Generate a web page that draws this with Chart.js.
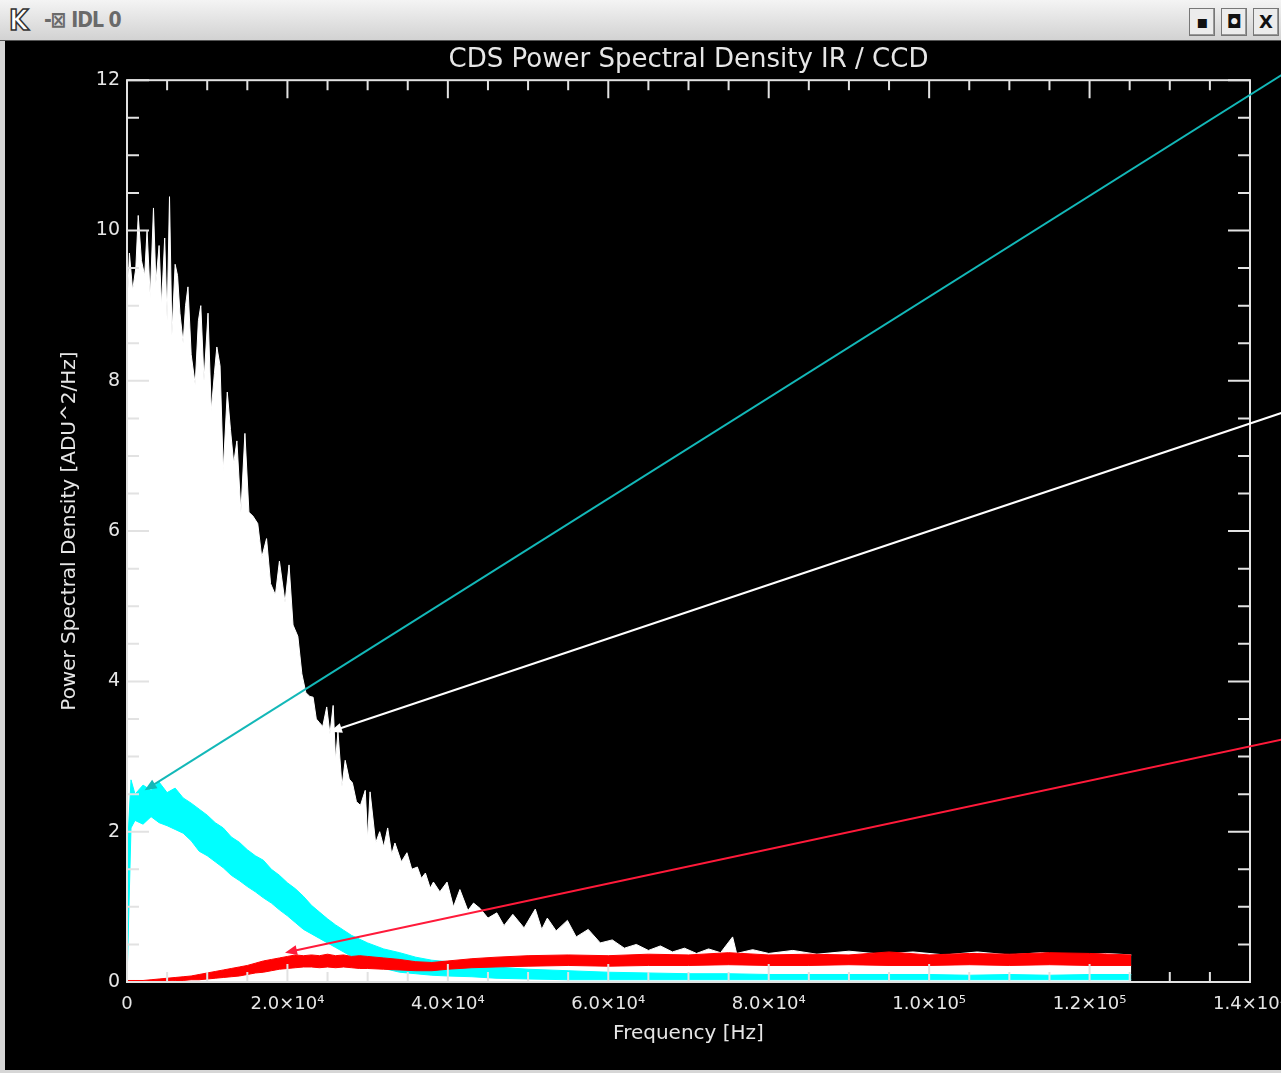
<!DOCTYPE html>
<html>
<head>
<meta charset="utf-8">
<title>CDS Power Spectral Density IR / CCD</title>
<script src="https://cdn.jsdelivr.net/npm/chart.js@4.4.1/dist/chart.umd.min.js"></script>
<style>
  html, body { margin: 0; padding: 0; }
  body { width: 1281px; height: 1073px; background: #d6d6d6; position: relative; overflow: hidden; font-family: "DejaVu Sans", sans-serif; }
  #titlebar { position: absolute; left: 0; top: 0; width: 1281px; height: 40px;
    background: linear-gradient(#f4f4f4, #d2d2d2); border-bottom: 1px solid #555; }
  #titlebar .logo { position: absolute; left: 9px; top: 4px; font: bold 28px "DejaVu Sans Condensed", "DejaVu Sans"; color: #fff;
    -webkit-text-stroke: 1.5px #333; }
  #titlebar .name { position: absolute; left: 44px; top: 8px; font: bold 21px "DejaVu Sans Condensed", "DejaVu Sans"; color: #6a6a6a; letter-spacing: -1px; }
  #titlebar .btn { position: absolute; top: 8px; width: 24px; height: 26px; border: 1px solid #777; background: #ececec;
    box-shadow: inset -1px -1px 0 #999; font: bold 18px "DejaVu Sans"; color: #111; text-align: center; line-height: 26px; }
  #plot { position: absolute; left: 5px; top: 41px; width: 1276px; height: 1029px; background: #000; }
  #psd { display: block; background: #000; }
</style>
</head>
<body>
<div id="titlebar">
  <span class="logo">K</span>
  <span class="name">-⊠ IDL 0</span>
  <span class="btn" style="left:1189px">▪</span>
  <span class="btn" style="left:1221px">◘</span>
  <span class="btn" style="left:1253px">X</span>
</div>
<div id="plot"><canvas id="psd" width="1276" height="1029"></canvas></div>

<script>
// ---- data ----

// white: IR spectrum (noisy, drawn as filled envelope)
const whiteFreq = [0, 300, 700, 1100, 1400, 1800, 2200, 2500, 2900, 3300, 3600, 4000, 4300, 4700, 5000, 5300, 5600,
  6000, 6300, 6600, 7000, 7300, 7600, 8000, 8500, 8900, 9200, 9600, 10100, 10500, 10900, 11200, 11600, 12000,
  12500, 12900, 13300, 13700, 14200, 14700, 15200, 15700, 16300, 16800, 17400, 17900, 18500, 19000, 19700, 20200,
  20700, 21300, 21800, 22300, 22800, 23200, 23600, 24000, 24400, 24900, 25300, 25700, 26000, 26300, 26800, 27200,
  27700, 28100, 28600, 29100, 29700, 30000, 30300, 31000, 31500, 32000, 32500, 33000, 33400, 34200, 34900, 35500,
  36200, 36700, 37200, 37800, 38200, 39000, 39900, 40700, 41500, 42500, 43200, 44000, 45000, 46100, 47000, 48100,
  49500, 50900, 51700, 52400, 53500, 54900, 56000, 57500, 59000, 60500, 62000, 63500, 65000, 66500, 68000, 69500,
  71000, 72500, 74000, 75500, 76000, 78000, 80000, 83000, 86000, 90000, 94000, 98000, 102000, 106000, 110000,
  114000, 118000, 122000, 125200];
const whitePsd = [8.9, 9.7, 9.2, 9.5, 10.2, 9.6, 9.4, 10.0, 9.1, 10.3, 9.3, 9.8, 9.0, 9.9, 8.8, 10.45, 8.6,
  9.55, 9.4, 8.9, 8.5, 9.0, 9.25, 8.35, 7.95, 8.8, 9.0, 8.0, 8.9, 7.6, 8.1, 8.45, 8.2, 6.8,
  7.85, 7.35, 6.9, 7.2, 6.25, 7.3, 6.25, 6.2, 6.1, 5.65, 5.9, 5.3, 5.15, 5.6, 5.05, 5.55,
  4.75, 4.6, 4.1, 3.85, 3.8, 3.79, 3.5, 3.45, 3.4, 3.66, 3.3, 3.68, 2.95, 3.33, 2.6, 2.95,
  2.7, 2.65, 2.4, 2.35, 2.55, 1.9, 2.53, 1.85, 2.0, 1.8, 2.05, 1.7, 1.85, 1.6, 1.72, 1.5,
  1.53, 1.38, 1.45, 1.25, 1.33, 1.2, 1.33, 1.0, 1.23, 0.95, 1.05, 0.98, 0.85, 0.92, 0.75, 0.9,
  0.72, 0.97, 0.7, 0.85, 0.68, 0.82, 0.6, 0.7, 0.52, 0.56, 0.45, 0.5, 0.42, 0.48, 0.40, 0.45,
  0.38, 0.44, 0.39, 0.6, 0.38, 0.43, 0.38, 0.42, 0.37, 0.41, 0.37, 0.40, 0.36, 0.40, 0.36,
  0.39, 0.35, 0.38, 0.36];

// cyan (CCD) and red bands share one frequency grid
const bandFreq = [0, 500, 1000, 2000, 3000, 4000, 5000, 6000, 7000, 8000, 9000, 10000, 11000, 12000, 13000, 14000,
  15000, 16000, 17000, 18000, 19000, 20000, 21000, 22000, 23000, 24000, 25000, 26000, 27000, 28000, 29000, 30000,
  32000, 34000, 36000, 38000, 40000, 43000, 46000, 50000, 55000, 60000, 65000, 70000, 75000, 80000, 85000, 90000,
  95000, 100000, 105000, 110000, 115000, 120000, 125200];
const cyanHigh = [1.66, 2.69, 2.5, 2.62, 2.55, 2.66, 2.52, 2.58, 2.45, 2.38, 2.3, 2.22, 2.12, 2.05, 1.93, 1.86,
  1.76, 1.68, 1.62, 1.5, 1.42, 1.32, 1.24, 1.14, 1.02, 0.93, 0.84, 0.76, 0.69, 0.62, 0.57, 0.52,
  0.44, 0.39, 0.33, 0.29, 0.27, 0.23, 0.2, 0.17, 0.15, 0.13, 0.12, 0.11, 0.11, 0.1, 0.1, 0.1,
  0.1, 0.1, 0.09, 0.1, 0.09, 0.1, 0.1];
const cyanLow = [0, 2.05, 2.15, 2.1, 2.2, 2.12, 2.08, 2.03, 1.98, 1.88, 1.74, 1.68, 1.6, 1.52, 1.42, 1.35,
  1.27, 1.2, 1.12, 1.05, 0.96, 0.88, 0.79, 0.7, 0.64, 0.58, 0.52, 0.46, 0.4, 0.34, 0.29, 0.25,
  0.18, 0.13, 0.11, 0.09, 0.08, 0.07, 0.05, 0.04, 0.03, 0.03, 0.03, 0.03, 0.03, 0.03, 0.03, 0.03,
  0.03, 0.03, 0.03, 0.03, 0.03, 0.03, 0.03];
const redHigh = [0.02, 0.02, 0.02, 0.02, 0.03, 0.04, 0.05, 0.06, 0.07, 0.08, 0.1, 0.12, 0.14, 0.16, 0.18, 0.2,
  0.22, 0.25, 0.28, 0.3, 0.32, 0.34, 0.36, 0.35, 0.36, 0.35, 0.37, 0.35, 0.36, 0.34, 0.35, 0.34,
  0.32, 0.3, 0.27, 0.26, 0.28, 0.31, 0.33, 0.35, 0.36, 0.35, 0.37, 0.36, 0.39, 0.36, 0.37, 0.36,
  0.4, 0.36, 0.38, 0.37, 0.39, 0.38, 0.36];
const redLow = [0, 0, 0, 0, 0, 0.01, 0.01, 0.02, 0.02, 0.03, 0.03, 0.04, 0.05, 0.06, 0.07, 0.08,
  0.1, 0.12, 0.13, 0.15, 0.17, 0.18, 0.19, 0.2, 0.2, 0.19, 0.2, 0.19, 0.2, 0.19, 0.18, 0.18,
  0.17, 0.16, 0.15, 0.15, 0.17, 0.19, 0.2, 0.21, 0.22, 0.21, 0.22, 0.22, 0.23, 0.22, 0.22, 0.23,
  0.22, 0.22, 0.23, 0.22, 0.23, 0.22, 0.22];

// tick labels
const xTickLabels = ['0', '2.0×10⁴', '4.0×10⁴', '6.0×10⁴', '8.0×10⁴', '1.0×10⁵', '1.2×10⁵', '1.4×10⁵'];
const yTickLabels = ['0', '2', '4', '6', '8', '10', '12'];

// arrows (data coords): tail outside the plot on the right, head on the curve
const arrowColors = ['#13b8b8', '#ffffff', '#ff1a3a'];
const arrowTailX = [145000, 145000, 145000];
const arrowTailY = [12.14, 7.61, 3.25];
const arrowHeadX = [2200, 25300, 19700];
const arrowHeadY = [2.55, 3.33, 0.39];

const FONT = '"DejaVu Sans", sans-serif';
const TEXT = '#e6e6e6';

function pts(xs, ys) {
  return xs.map((x, i) => ({ x: x, y: ys[i] }));
}

// IDL style box with ticks pointing inward on all four sides
const idlFrame = {
  id: 'idlFrame',
  afterDatasetsDraw(chart) {
    const { ctx, chartArea: a, scales } = chart;
    const x = scales.x, y = scales.y;
    ctx.save();
    ctx.strokeStyle = '#e2e2e2';
    ctx.lineWidth = 2;
    ctx.strokeRect(a.left, a.top, a.right - a.left, a.bottom - a.top);
    ctx.beginPath();
    for (let v = 0; v <= 140000; v += 5000) {
      const px = x.getPixelForValue(v);
      const len = v % 20000 === 0 ? 18 : 10;
      ctx.moveTo(px, a.bottom); ctx.lineTo(px, a.bottom - len);
      ctx.moveTo(px, a.top); ctx.lineTo(px, a.top + len);
    }
    for (let v = 0; v <= 12; v += 0.5) {
      const py = y.getPixelForValue(v);
      const len = v % 2 === 0 ? 22 : 12;
      ctx.moveTo(a.left, py); ctx.lineTo(a.left + len, py);
      ctx.moveTo(a.right, py); ctx.lineTo(a.right - len, py);
    }
    ctx.stroke();
    ctx.restore();
  }
};

// annotation arrows
const arrows = {
  id: 'arrows',
  afterDraw(chart) {
    const { ctx, scales } = chart;
    ctx.save();
    arrowColors.forEach((c, i) => {
      const x1 = scales.x.getPixelForValue(arrowTailX[i]);
      const y1 = scales.y.getPixelForValue(arrowTailY[i]);
      const x2 = scales.x.getPixelForValue(arrowHeadX[i]);
      const y2 = scales.y.getPixelForValue(arrowHeadY[i]);
      const ang = Math.atan2(y2 - y1, x2 - x1);
      ctx.strokeStyle = c;
      ctx.fillStyle = c;
      ctx.lineWidth = 2;
      ctx.beginPath();
      ctx.moveTo(x1, y1);
      ctx.lineTo(x2 - 8 * Math.cos(ang), y2 - 8 * Math.sin(ang));
      ctx.stroke();
      ctx.beginPath();
      ctx.moveTo(x2, y2);
      ctx.lineTo(x2 - 12 * Math.cos(ang) + 5 * Math.sin(ang), y2 - 12 * Math.sin(ang) - 5 * Math.cos(ang));
      ctx.lineTo(x2 - 12 * Math.cos(ang) - 5 * Math.sin(ang), y2 - 12 * Math.sin(ang) + 5 * Math.cos(ang));
      ctx.closePath();
      ctx.fill();
    });
    ctx.restore();
  }
};

function createChart() {
  const ctx = document.getElementById('psd').getContext('2d');
  const line = { pointRadius: 0, tension: 0, borderWidth: 1, showLine: true };

  new Chart(ctx, {
    type: 'line',
    data: {
      datasets: [
        Object.assign({ label: 'red low', data: pts(bandFreq, redLow), borderColor: '#ff0000', order: 0 }, line),
        Object.assign({ label: 'red high', data: pts(bandFreq, redHigh), borderColor: '#ff0000',
          backgroundColor: '#ff0000', fill: '-1', order: 0 }, line),
        Object.assign({ label: 'cyan low', data: pts(bandFreq, cyanLow), borderColor: '#00ffff', order: 1 }, line),
        Object.assign({ label: 'cyan high', data: pts(bandFreq, cyanHigh), borderColor: '#00ffff',
          backgroundColor: '#00ffff', fill: '-1', order: 1 }, line),
        Object.assign({ label: 'IR', data: pts(whiteFreq, whitePsd), borderColor: '#ffffff',
          backgroundColor: '#ffffff', fill: 'origin', order: 2 }, line)
      ]
    },
    options: {
      responsive: false,
      animation: false,
      layout: { padding: { left: 0, right: 31, top: 0, bottom: 0 } },
      plugins: {
        legend: { display: false },
        tooltip: { enabled: false },
        title: {
          display: true,
          text: 'CDS Power Spectral Density IR / CCD',
          fullSize: false,
          color: TEXT,
          font: { family: FONT, size: 26, weight: 'normal' },
          padding: { top: 4, bottom: 4 }
        }
      },
      scales: {
        x: {
          type: 'linear',
          min: 0,
          max: 140000,
          grid: { display: false, drawTicks: false },
          border: { display: false },
          ticks: {
            stepSize: 20000,
            autoSkip: false,
            maxRotation: 0,
            padding: 12,
            color: TEXT,
            font: { family: FONT, size: 18 },
            callback: v => xTickLabels[Math.round(v / 20000)]
          },
          title: {
            display: true,
            text: 'Frequency [Hz]',
            color: TEXT,
            font: { family: FONT, size: 20 },
            padding: { top: 0, bottom: 24 }
          },
          afterFit(scale) {
            scale.height = 88;
            scale.paddingLeft = 0;
            scale.paddingRight = 0;
          }
        },
        y: {
          type: 'linear',
          min: 0,
          max: 12,
          grid: { display: false, drawTicks: false },
          border: { display: false },
          ticks: {
            stepSize: 2,
            padding: 7,
            color: TEXT,
            font: { family: FONT, size: 19 },
            callback: v => yTickLabels[Math.round(v / 2)]
          },
          title: {
            display: true,
            text: 'Power Spectral Density [ADU^2/Hz]',
            color: TEXT,
            font: { family: FONT, size: 20 },
            padding: { top: 53, bottom: 0 }
          },
          afterFit(scale) {
            scale.width = 122;
            scale.paddingTop = 0;
            scale.paddingBottom = 0;
          }
        }
      }
    },
    plugins: [idlFrame, arrows]
  });
}

createChart();
</script>
</body>
</html>
